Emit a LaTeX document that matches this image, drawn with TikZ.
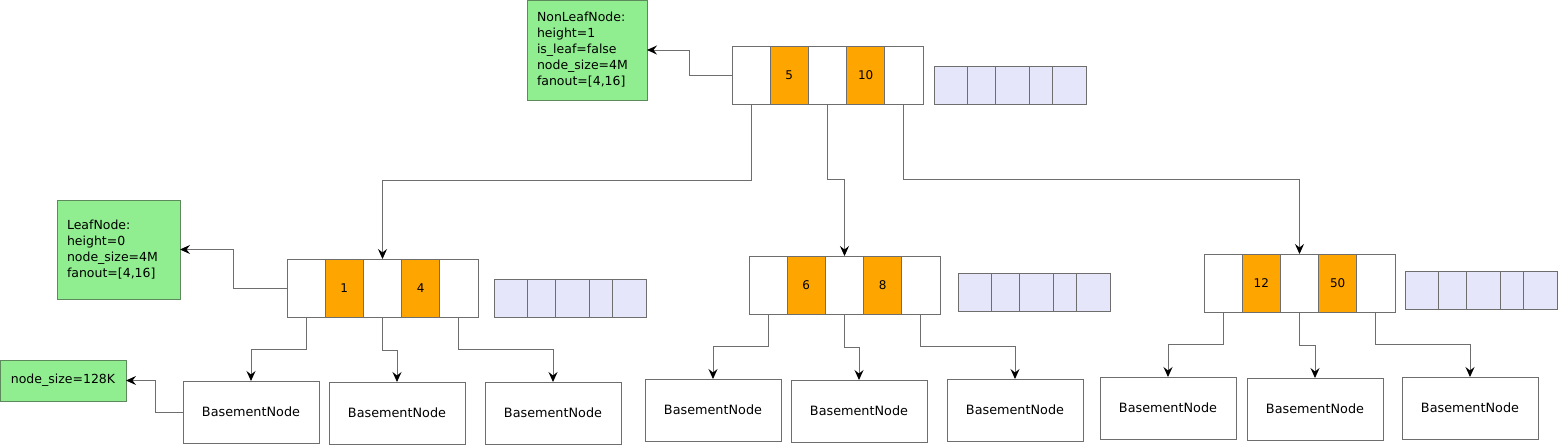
\documentclass[tikz,border=0pt]{standalone}
\usepackage{fontspec}
\setmainfont{DejaVu Sans}
\usetikzlibrary{arrows.meta,calc}
\definecolor{keyor}{HTML}{FFA500}
\definecolor{lav}{HTML}{E6E6FA}
\definecolor{lgreen}{HTML}{90EE90}
\definecolor{edgec}{HTML}{6E6E6E}
\definecolor{gborder}{HTML}{5C8A5C}
\tikzset{
 cell/.style={draw=edgec, line width=1pt, minimum width=38.2pt, minimum height=58pt, inner sep=0pt, outer sep=0pt, anchor=north west, font=\fontsize{12}{14}\selectfont},
 keycell/.style={cell, fill=keyor},
 frame/.style={draw=edgec, line width=1pt, minimum width=191pt, minimum height=58pt, inner sep=0pt, outer sep=0pt, anchor=north west},
 lcell/.style={draw=edgec, line width=1pt, fill=lav, minimum height=38pt, inner sep=0pt, outer sep=0pt, anchor=north west},
 base/.style={draw=edgec, line width=1pt, minimum width=136pt, minimum height=62pt, anchor=north west, inner sep=0pt, outer sep=0pt, font=\fontsize{12.8}{15}\selectfont},
 note/.style={draw=gborder, line width=1pt, fill=lgreen, anchor=north west, outer sep=0pt, font=\fontsize{12.5}{16}\selectfont},
 conn/.style={draw=edgec, line width=0.9pt, -{Stealth[length=10pt,width=9pt,inset=3.5pt,color=black]}},
}
\newcommand\keyrow[5]{%
 \node[frame] (#1) at (#2,#3) {};
 \node[cell] (#1c1) at (#2,#3) {};
 \node[keycell] (#1c2) at ({#2+38.2},#3) {#4};
 \node[cell] (#1c3) at ({#2+76.4},#3) {};
 \node[keycell] (#1c4) at ({#2+114.6},#3) {#5};
 \node[cell] (#1c5) at ({#2+152.8},#3) {};
}
\newcommand\lavrow[3]{%
 \node[lcell,minimum width=33pt] (#1a) at (#2,#3) {};
 \node[lcell,minimum width=28.5pt] (#1b) at ({#2+33},#3) {};
 \node[lcell,minimum width=34pt] (#1c) at ({#2+61.5},#3) {};
 \node[lcell,minimum width=23pt] (#1d) at ({#2+95.5},#3) {};
 \node[lcell,minimum width=33.5pt] (#1e) at ({#2+118.5},#3) {};
}
\begin{document}
\begin{tikzpicture}[x=1pt,y=-1pt]
\useasboundingbox (0,0) rectangle (1561,445);
% notes
\node[note, minimum width=120pt, minimum height=100pt, text width=100pt, inner xsep=10pt, inner ysep=0pt, align=left] (NL) at (527,0)
 {NonLeafNode:\\height=1\\is\_leaf=false\\node\_size=4M\\fanout=[4,16]};
\node[note, minimum width=123pt, minimum height=99pt, text width=103pt, inner xsep=10pt, inner ysep=0pt, align=left] (LN) at (57,200)
 {LeafNode:\\height=0\\node\_size=4M\\fanout=[4,16]};
\node[note, minimum width=126pt, minimum height=41pt, inner sep=0pt] (NS) at (0,360) {node\_size=128K};
% key nodes
\keyrow{T}{732}{46}{5}{10}
\lavrow{TL}{934}{66}
\keyrow{A}{287}{259}{1}{4}
\lavrow{AL}{494}{279}
\keyrow{B}{749}{256}{6}{8}
\lavrow{BL}{958}{273}
\keyrow{C}{1204}{254}{12}{50}
\lavrow{CL}{1405}{271}
% basement nodes
\node[base] (A1) at (183,381) {BasementNode};
\node[base] (A2) at (329,382) {BasementNode};
\node[base] (A3) at (485,382) {BasementNode};
\node[base] (B1) at (645,379) {BasementNode};
\node[base] (B2) at (791,380) {BasementNode};
\node[base] (B3) at (947,379) {BasementNode};
\node[base] (C1) at (1100,377) {BasementNode};
\node[base] (C2) at (1247,378) {BasementNode};
\node[base] (C3) at (1402,377) {BasementNode};
% annotation arrows
\draw[conn] (T.west) -- ++(-43,0) |- (NL.east);
\draw[conn] (A.west) -- ++(-54,0) |- (LN.east);
\draw[conn] (A1.west) -- ++(-28,0) |- (NS.east);
% tree edges
\draw[conn] (Tc1.south) -- ++(0,76) -| (Ac3.north);
\draw[conn] (Tc3.south) -- ++(0,75) -| (Bc3.north);
\draw[conn] (Tc5.south) -- ++(0,75) -| (Cc3.north);
\draw[conn] (Ac1.south) -- ++(0,32) -| (A1.north);
\draw[conn] (Ac3.south) -- ++(0,33) -| (A2.north);
\draw[conn] (Ac5.south) -- ++(0,32) -| (A3.north);
\draw[conn] (Bc1.south) -- ++(0,32) -| (B1.north);
\draw[conn] (Bc3.south) -- ++(0,33) -| (B2.north);
\draw[conn] (Bc5.south) -- ++(0,32) -| (B3.north);
\draw[conn] (Cc1.south) -- ++(0,32) -| (C1.north);
\draw[conn] (Cc3.south) -- ++(0,33) -| (C2.north);
\draw[conn] (Cc5.south) -- ++(0,32) -| (C3.north);
\end{tikzpicture}
\end{document}
